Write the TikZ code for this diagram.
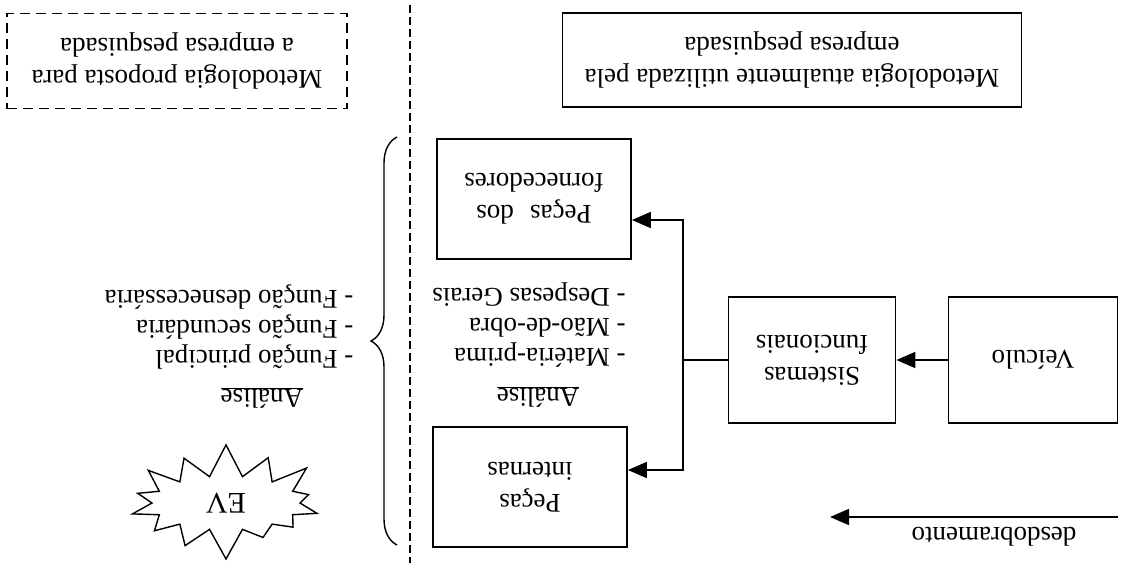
\documentclass[tikz,border=0pt]{standalone}
\usepackage{fontspec}
\setmainfont{Liberation Serif}
\usetikzlibrary{arrows.meta,calc,shapes.symbols,decorations.pathreplacing}
\tikzset{
  flip/.style={rotate=180,font=\fontsize{27}{32}\selectfont},
  caixa/.style={flip,draw,line width=1.8pt,align=center,inner sep=0pt},
  lista/.style={flip,align=left,inner sep=0pt,font=\fontsize{27}{30}\selectfont},
  liga/.style={line width=1.8pt},
}
\begin{document}
\begin{tikzpicture}[x=1pt,y=-1pt,>={Triangle[length=19pt,width=16pt]}]
  \useasboundingbox (0,0) rectangle (1123,563);
  % titulos
  \node[caixa,dash pattern=on 10pt off 6pt,minimum width=340pt,minimum height=95pt] (prop) at (177,61) {Metodologia proposta para\\a empresa pesquisada};
  \node[caixa,minimum width=459pt,minimum height=94pt] (atual) at (792,60) {Metodologia atualmente utilizada pela\\empresa pesquisada};
  % caixas
  \node[caixa,minimum width=169pt,minimum height=126pt] (vc) at (1033,360) {Veículo};
  \node[caixa,minimum width=167pt,minimum height=126pt] (st) at (812,360) {Sistemas\\funcionais};
  \node[caixa,minimum width=194pt,minimum height=120pt] (pf) at (534,199) {Peças\hspace{0.6em}dos\\fornecedores};
  \node[caixa,minimum width=194pt,minimum height=120pt] (pi) at (530,487) {Peças\\internas};
  \coordinate (jn) at (683,360);
  \draw[liga,->] (vc) -- (st);
  \draw[liga] (st) -- (jn);
  \draw[liga,->] (jn) |- ($(pf.west)+(0,21)$);
  \draw[liga,->] (jn) |- ($(pi.west)+(0,-17)$);
  % desdobramento
  \coordinate (dsA) at (1118,517);
  \coordinate (dsB) at (830,517);
  \draw[liga,->] (dsA) -- (dsB);
  \node[flip] (desd) at (994,537) {desdobramento};
  % analise
  \node[flip] (an1) at (538,397) {\underline{Análise}};
  \node[lista] (ls1) at (529,325) {- Matéria-prima\\- Mão-de-obra\\- Despesas Gerais};
  \node[flip] (an2) at (262,398) {\underline{Análise}};
  \node[lista] (ls2) at (229,327) {- Função principal\\- Função secundária\\- Função desnecessária};
  % divisao
  \coordinate (dvA) at (410,5);
  \coordinate (dvB) at (410,563);
  \draw[line width=1.6pt,dash pattern=on 8pt off 4pt] (dvA) -- (dvB);
  \coordinate (bA) at (397,545);
  \coordinate (bB) at (397,137);
  \draw[line width=1.4pt,decorate,decoration={brace,amplitude=26pt}] (bA) -- (bB);
  \node[flip,draw,starburst,starburst points=14,starburst point height=32pt,random starburst=7,line width=1.4pt,minimum width=212pt,minimum height=118pt,font=\fontsize{30}{32}\selectfont] (ev) at (226,503) {EV};
\end{tikzpicture}
\end{document}
